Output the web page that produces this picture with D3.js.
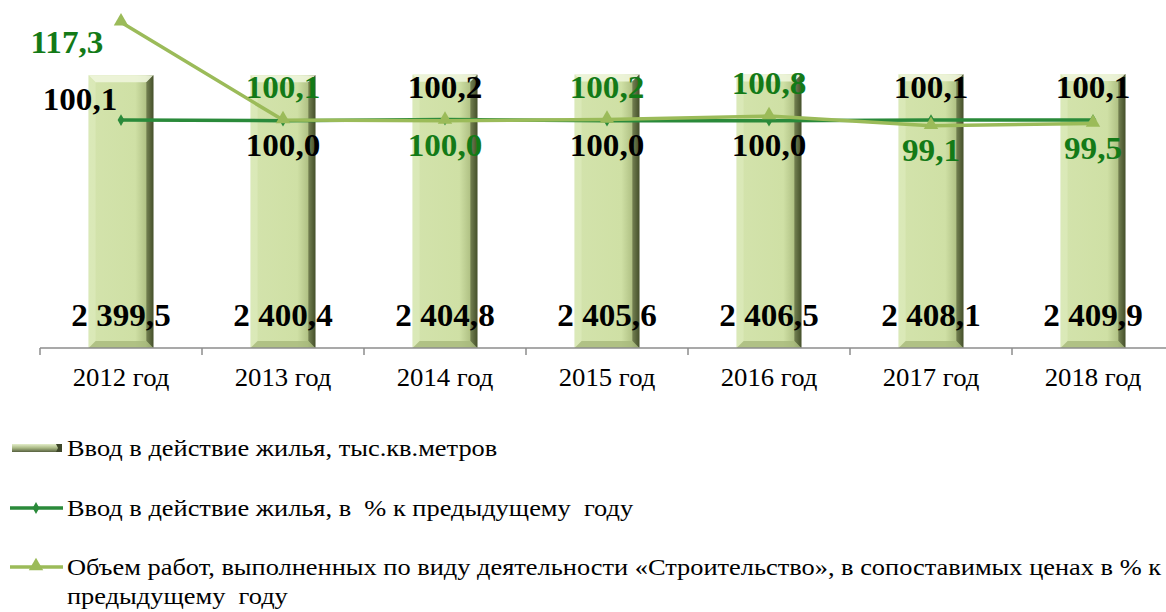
<!DOCTYPE html>
<html>
<head>
<meta charset="utf-8">
<script src="https://cdn.jsdelivr.net/npm/d3@7"></script>
<style>
  html, body { margin: 0; padding: 0; background: #fff; }
  svg text { font-family: "Liberation Serif", "DejaVu Serif", serif; }
</style>
</head>
<body>
<svg id="chart"></svg>
<script>
// data
var years = ['2012 год', '2013 год', '2014 год', '2015 год', '2016 год', '2017 год', '2018 год']
var housing = [2399.5, 2400.4, 2404.8, 2405.6, 2406.5, 2408.1, 2409.9]
var housingPct = [100.1, 100.0, 100.2, 100.0, 100.0, 100.1, 100.1]
var buildPct = [117.3, 100.1, 100.0, 100.2, 100.8, 99.1, 99.5]

var legendNames = [
  'Ввод в действие жилья, тыс.кв.метров',
  'Ввод в действие жилья, в  % к предыдущему  году',
  'Объем работ, выполненных по виду деятельности «Строительство», в сопоставимых ценах в % к'
]

// where each line label sits relative to its point
var housingPctPos = ['leftUp', 'below', 'above', 'below', 'below', 'above', 'above']
var buildPctPos = ['leftDown', 'above', 'below', 'above', 'above', 'below', 'below']

;(function (d3) {
  var w = 1166
  var h = 612
  var x0 = 40
  var axisY = 348
  var top = 7
  var sx = 1.07 // the source text is a bit wide

  var svg = d3.select('#chart').attr('width', w).attr('height', h)

  var x = d3.scaleBand()
    .domain(years)
    .range([x0, x0 + 162 * years.length])
    .paddingInner(0.6)
    .paddingOuter(0.3)

  var y = d3.scaleLinear().domain([0, 3000]).range([axisY, top])
  var y2 = d3.scaleLinear().domain([60, 120]).range([axisY, top])

  var fmtNum = function (v) {
    var s = d3.format(',.1f')(v)
    return s.replace(/,/g, ' ').replace('.', ',')
  }
  var fmtPct = function (v) { return d3.format('.1f')(v).replace('.', ',') }

  var defs = svg.append('defs')
  var g1 = defs.append('linearGradient').attr('id', 'barGrad')
  g1.append('stop').attr('offset', '0%').attr('stop-color', '#d3e3ac')
  g1.append('stop').attr('offset', '72%').attr('stop-color', '#cfe0a5')
  g1.append('stop').attr('offset', '88%').attr('stop-color', '#b2c386')
  g1.append('stop').attr('offset', '100%').attr('stop-color', '#4b5730')

  var g2 = defs.append('linearGradient').attr('id', 'legGrad')
    .attr('x1', 0).attr('y1', 0).attr('x2', 0).attr('y2', 1)
  g2.append('stop').attr('offset', '0%').attr('stop-color', '#e4eecb')
  g2.append('stop').attr('offset', '50%').attr('stop-color', '#a9b884')
  g2.append('stop').attr('offset', '100%').attr('stop-color', '#56603e')

  // bars
  var bw = x.bandwidth()
  var bev = 7
  var bars = svg.append('g').selectAll('g')
    .data(housing)
    .join('g')
    .attr('transform', (d, i) => `translate(${x(years[i])},0)`)

  bars.append('rect')
    .attr('x', 0)
    .attr('y', d => y(d))
    .attr('width', bw)
    .attr('height', d => axisY - y(d))
    .attr('fill', 'url(#barGrad)')

  // top bevel
  bars.append('path')
    .attr('d', d => {
      var t = y(d)
      return `M0,${t}L${bw},${t}L${bw - bev},${t + bev}L${bev},${t + bev}Z`
    })
    .attr('fill', '#eef5dc')
    .attr('opacity', 0.9)
  // left bevel
  bars.append('path')
    .attr('d', d => {
      var t = y(d)
      return `M0,${t}L${bev},${t + bev}L${bev},${axisY - bev}L0,${axisY}Z`
    })
    .attr('fill', '#dfecc0')
    .attr('opacity', 0.6)
  // right bevel
  bars.append('path')
    .attr('d', d => {
      var t = y(d)
      return `M${bw},${t}L${bw - bev},${t + bev}L${bw - bev},${axisY - bev}L${bw},${axisY}Z`
    })
    .attr('fill', '#3f4a26')
    .attr('opacity', 0.5)
  // bottom bevel
  bars.append('path')
    .attr('d', `M0,${axisY}L${bev},${axisY - bev}L${bw - bev},${axisY - bev}L${bw},${axisY}Z`)
    .attr('fill', '#a8b97c')
    .attr('opacity', 0.8)

  // x axis
  var ax = svg.append('g')
  ax.append('line')
    .attr('x1', x0).attr('x2', w)
    .attr('y1', axisY).attr('y2', axisY)
    .attr('stroke', '#8c8c8c').attr('stroke-width', 1.5)
  ax.selectAll('line.tick')
    .data(d3.range(years.length + 1))
    .join('line')
    .attr('class', 'tick')
    .attr('x1', i => x0 + x.step() * i).attr('x2', i => x0 + x.step() * i)
    .attr('y1', axisY).attr('y2', axisY + 7)
    .attr('stroke', '#8c8c8c').attr('stroke-width', 1.5)
  ax.selectAll('text')
    .data(years)
    .join('text')
    .attr('transform', d => `translate(${x(d) + bw / 2},386) scale(${sx},1)`)
    .attr('text-anchor', 'middle')
    .attr('font-size', 25)
    .attr('fill', '#000')
    .text(d => d)

  var cx = (d, i) => x(years[i]) + bw / 2

  // housing % line (dark)
  var darkCol = '#2a8a3a'
  var lightCol = '#9bbb59'
  var line = d3.line().x(cx).y(d => y2(d))

  svg.append('path')
    .datum(housingPct)
    .attr('d', line)
    .attr('fill', 'none')
    .attr('stroke', darkCol)
    .attr('stroke-width', 3.5)

  svg.append('g').selectAll('path')
    .data(housingPct)
    .join('path')
    .attr('transform', (d, i) => `translate(${cx(d, i)},${y2(d)})`)
    .attr('d', d3.symbol(d3.symbolDiamond, 40))
    .attr('fill', darkCol)

  // construction % line (light)
  svg.append('path')
    .datum(buildPct)
    .attr('d', line)
    .attr('fill', 'none')
    .attr('stroke', lightCol)
    .attr('stroke-width', 3.5)

  svg.append('g').selectAll('path')
    .data(buildPct)
    .join('path')
    .attr('transform', (d, i) => `translate(${cx(d, i)},${y2(d) - 1})`)
    .attr('d', d3.symbol(d3.symbolTriangle, 90))
    .attr('fill', lightCol)

  // labels
  var offsets = {
    above: [0, -22],
    below: [0, 35],
    leftUp: [-41, -10],
    leftDown: [-54, 31]
  }

  function labels (vals, pos, col) {
    svg.append('g').selectAll('text')
      .data(vals)
      .join('text')
      .attr('transform', (d, i) => `translate(${cx(d, i) + offsets[pos[i]][0]},${y2(d) + offsets[pos[i]][1]}) scale(${sx},1)`)
      .attr('text-anchor', 'middle')
      .attr('font-size', 31)
      .attr('font-weight', 'bold')
      .attr('fill', col)
      .text(fmtPct)
  }
  labels(housingPct, housingPctPos, '#000')
  labels(buildPct, buildPctPos, '#137a17')

  svg.append('g').selectAll('text')
    .data(housing)
    .join('text')
    .attr('transform', (d, i) => `translate(${cx(d, i)},326) scale(${sx},1)`)
    .attr('text-anchor', 'middle')
    .attr('font-size', 31)
    .attr('font-weight', 'bold')
    .attr('fill', '#000')
    .style('white-space', 'pre')
    .text(fmtNum)

  // legend
  var lg = svg.append('g')
  var rows = [448, 508, 567]
  lg.append('rect')
    .attr('x', 12).attr('y', rows[0] - 4).attr('width', 50).attr('height', 8)
    .attr('fill', 'url(#legGrad)')
  lg.append('path')
    .attr('d', `M56,${rows[0] - 4}L62,${rows[0] - 4}L62,${rows[0] + 4}L56,${rows[0] + 4}L58,${rows[0]}Z`)
    .attr('fill', '#3d4628')

  lg.append('line')
    .attr('x1', 10).attr('x2', 63).attr('y1', rows[1]).attr('y2', rows[1])
    .attr('stroke', darkCol).attr('stroke-width', 3.5)
  lg.append('path')
    .attr('transform', `translate(36,${rows[1]})`)
    .attr('d', d3.symbol(d3.symbolDiamond, 40))
    .attr('fill', darkCol)

  lg.append('line')
    .attr('x1', 10).attr('x2', 63).attr('y1', rows[2]).attr('y2', rows[2])
    .attr('stroke', lightCol).attr('stroke-width', 3.5)
  lg.append('path')
    .attr('transform', `translate(36,${rows[2] - 1})`)
    .attr('d', d3.symbol(d3.symbolTriangle, 90))
    .attr('fill', lightCol)

  var lsx = 1.1
  lg.selectAll('text.name')
    .data(legendNames)
    .join('text')
    .attr('class', 'name')
    .attr('transform', (d, i) => `translate(67,${rows[i] + 8}) scale(${lsx},1)`)
    .attr('font-size', 24)
    .attr('fill', '#000')
    .style('white-space', 'pre')
    .text(d => d)

  lg.append('text')
    .attr('transform', `translate(67,604) scale(${lsx},1)`)
    .attr('font-size', 24)
    .attr('fill', '#000')
    .style('white-space', 'pre')
    .text('предыдущему  году')
})(window.d3)
</script>
</body>
</html>
